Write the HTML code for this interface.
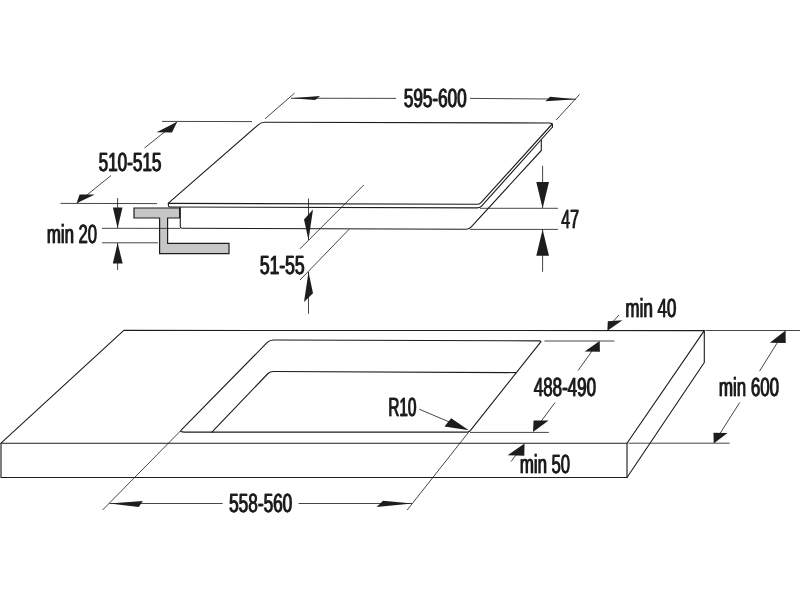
<!DOCTYPE html>
<html>
<head>
<meta charset="utf-8">
<title>Cooktop installation dimensions</title>
<style>
html,body{margin:0;padding:0;background:#fff;}
body{width:800px;height:600px;overflow:hidden;font-family:"Liberation Sans",sans-serif;}
svg{display:block;}
.m{fill:none;stroke:#1d1d1b;stroke-width:1.12;stroke-linejoin:round;stroke-linecap:round;}
.t{fill:none;stroke:#1d1d1b;stroke-width:0.82;stroke-linecap:butt;}
.a{fill:#1d1d1b;stroke:none;}
text{font-family:"Liberation Sans",sans-serif;font-size:26.2px;fill:#1d1d1b;stroke:#1d1d1b;stroke-width:0.35;text-rendering:geometricPrecision;}
svg{filter:grayscale(1);}
</style>
</head>
<body>
<svg width="800" height="600" viewBox="0 0 800 600">
<rect x="0" y="0" width="800" height="600" fill="#ffffff"/>

<!-- ============ COOKTOP (upper drawing) ============ -->
<!-- glass plate top surface -->
<path class="m" d="M168.4,203.2 L258.2,124.8 Q261,122.3 265,122.3 L549.5,123 Q552.6,123 552.4,125 L552.5,127"/>
<path class="m" d="M552.2,124 L481,202.6 Q479.4,204.3 477,204.3 L168.4,203.4"/>
<!-- glass thickness -->
<path class="m" d="M168.4,203.2 L168.4,205.6 Q168.4,207 170,207 L477,207.9 Q479.8,207.9 481.3,206.3 L552.5,127"/>
<!-- housing under the plate -->
<path class="m" d="M180.3,207.4 L180.3,226.6 Q180.3,228.3 182,228.3 L466,229.2 Q469,229.2 470.8,227.3 L541.3,150.5 L541.3,140"/>

<!-- mounting bracket (grey) -->
<path d="M134,208 L179.6,208 L179.6,218 L167.6,218 L167.6,243.4 L229,243.4 L229,253.6 L159.6,253.6 L159.6,218 L134,218 Z" fill="#c6c6c6" stroke="#1d1d1b" stroke-width="1.2" stroke-linejoin="miter"/>

<!-- dimension: 595-600 -->
<path class="t" d="M265,118.8 L294.5,93.2"/>
<path class="t" d="M556.2,120 L579.5,94.5"/>
<path class="t" d="M291,98.2 L396,98.4"/>
<path class="t" d="M470,98.4 L576,99.2"/>
<path class="a" d="M291,98.2 L320,95.9 L315.2,100 Z"/>
<path class="a" d="M576.3,99.3 L550,96.7 L545.5,101.2 Z"/>

<!-- dimension: 510-515 -->
<path class="t" d="M162,121.4 L252,121.6"/>
<path class="t" d="M60.5,203.4 L157,203.6"/>
<path class="t" d="M177,122 L144.5,148"/>
<path class="t" d="M111,175.5 L77,203"/>
<path class="a" d="M177.2,121.8 L156.6,132.3 L172,132.6 Z"/>
<path class="a" d="M76.6,203.2 L94.8,194.6 L79.6,194.4 Z"/>

<!-- dimension: min 20 -->
<path class="t" d="M117.6,198 L117.6,228"/>
<path class="t" d="M117.6,243 L117.6,270"/>
<path class="t" d="M102,228.3 L180,228.4"/>
<path class="t" d="M102,242.8 L158,242.8"/>
<path class="a" d="M112.9,207.4 L122.5,207.4 L117.6,228.2 Z"/>
<path class="a" d="M112.8,263.6 L122.7,263.6 L117.6,242.8 Z"/>

<!-- dimension: 51-55 -->
<path class="t" d="M363.8,185 L300,248.8"/>
<path class="t" d="M349.2,229.2 L300,280"/>
<path class="t" d="M308.5,198.5 L308.5,240"/>
<path class="t" d="M308.5,272 L308.5,313.8"/>
<path class="a" d="M313,209.4 L304,219.6 L308.5,240 Z"/>
<path class="a" d="M308.5,272 L313,293.2 L304,302 Z"/>

<!-- dimension: 47 -->
<path class="t" d="M480,208.3 L558,208.3"/>
<path class="t" d="M470,229.4 L558,229.4"/>
<path class="t" d="M542.6,165.8 L542.6,208"/>
<path class="t" d="M542.6,229.4 L542.6,271.8"/>
<path class="a" d="M536.3,182 L549,182 L542.6,208.2 Z"/>
<path class="a" d="M536.3,255.8 L549,255.8 L542.6,229.4 Z"/>

<!-- ============ WORKTOP (lower drawing) ============ -->
<!-- slab -->
<path class="m" d="M1,443.2 L123.8,330.4 L704.3,330.6 L627,443.2 Z"/>
<path class="m" d="M1,443.2 L1,477.5 L627,477.5 L627,443.2"/>
<path class="m" d="M704.3,330.6 L704.3,362.5 L627,477.5"/>
<!-- cut-out, upper rim -->
<path class="m" d="M184.6,432.1 Q179.1,432.1 181.4,429.8 L267.3,342.4 Q269.6,340 273.5,340 L539.6,340.9 Q541.6,340.9 540.6,342.2 L470.3,430.6 Q469.1,432.1 466.8,432.1 Z"/>
<!-- cut-out, lower rim visible through opening -->
<path class="m" d="M211.9,432.1 L268,373.5 Q270,371.5 273.5,371.5 L516.3,372.6"/>

<!-- dimension: 558-560 -->
<path class="t" d="M180.4,431 L102.6,510"/>
<path class="t" d="M469.4,431.2 L407.2,510"/>
<path class="t" d="M109.5,503.5 L222.6,503.5"/>
<path class="t" d="M298.6,503.5 L412,503.5"/>
<path class="a" d="M109.3,503.5 L142.8,500.9 L138.8,507.1 Z"/>
<path class="a" d="M412.3,503.5 L383,500.7 L376.6,507 Z"/>

<!-- dimension: R10 -->
<path class="t" d="M419.2,409.2 L455,424.4"/>
<path class="a" d="M468.8,430.2 L451.2,418.2 L444.5,426.4 Z"/>

<!-- dimension: 488-490 -->
<path class="t" d="M544.4,341 L614.4,341"/>
<path class="t" d="M470,432.4 L548.8,432.4"/>
<path class="t" d="M592,351 L578,370.6"/>
<path class="t" d="M555,402.6 L541,421.4"/>
<path class="a" d="M599.7,341 L599.9,351.7 L584.6,351.5 Z"/>
<path class="a" d="M533,432 L533.6,420.6 L548.6,420.6 Z"/>

<!-- dimension: min 40 -->
<path class="t" d="M619,315 L613,321.5"/>
<path class="a" d="M607.4,330.8 L607.8,321.2 L622.4,320.2 Z"/>

<!-- dimension: min 50 -->
<path class="t" d="M516,455 L511,461.6"/>
<path class="a" d="M524.5,443.4 L524.3,455.7 L507.6,455.3 Z"/>

<!-- dimension: min 600 -->
<path class="t" d="M705.5,330.5 L800,330.5"/>
<path class="t" d="M628.5,443.2 L729.6,443.2"/>
<path class="t" d="M777.5,342.4 L759.5,371.2"/>
<path class="t" d="M739.7,402.5 L720,433.5"/>
<path class="a" d="M785.6,330.6 L785.7,342.9 L769.8,342.7 Z"/>
<path class="a" d="M713.7,443.4 L713.5,432.8 L727.6,433.1 Z"/>
<!-- ============ LABELS (drawn twice, offset 0.7px, to emulate condensed medium weight) ============ -->
<g id="lb">
<text x="403.6" y="106.7" textLength="62.6" lengthAdjust="spacingAndGlyphs">595-600</text>
<text x="98.3" y="171" textLength="62.8" lengthAdjust="spacingAndGlyphs">510-515</text>
<text x="46.6" y="243" textLength="50.1" lengthAdjust="spacingAndGlyphs">min 20</text>
<text x="259.6" y="274" textLength="44.6" lengthAdjust="spacingAndGlyphs">51-55</text>
<text x="560.9" y="227.6" textLength="17.8" lengthAdjust="spacingAndGlyphs">47</text>
<text x="228.8" y="511.6" textLength="63.1" lengthAdjust="spacingAndGlyphs">558-560</text>
<text x="388.1" y="416.2" textLength="28" lengthAdjust="spacingAndGlyphs">R10</text>
<text x="533.5" y="395.9" textLength="62.1" lengthAdjust="spacingAndGlyphs">488-490</text>
<text x="625.1" y="316.9" textLength="50.9" lengthAdjust="spacingAndGlyphs">min 40</text>
<text x="519.6" y="472.6" textLength="50.1" lengthAdjust="spacingAndGlyphs">min 50</text>
<text x="718.6" y="396.2" textLength="60.1" lengthAdjust="spacingAndGlyphs">min 600</text>
</g>
<use href="#lb" transform="translate(0.7,0)"/>
</svg>
</body>
</html>
